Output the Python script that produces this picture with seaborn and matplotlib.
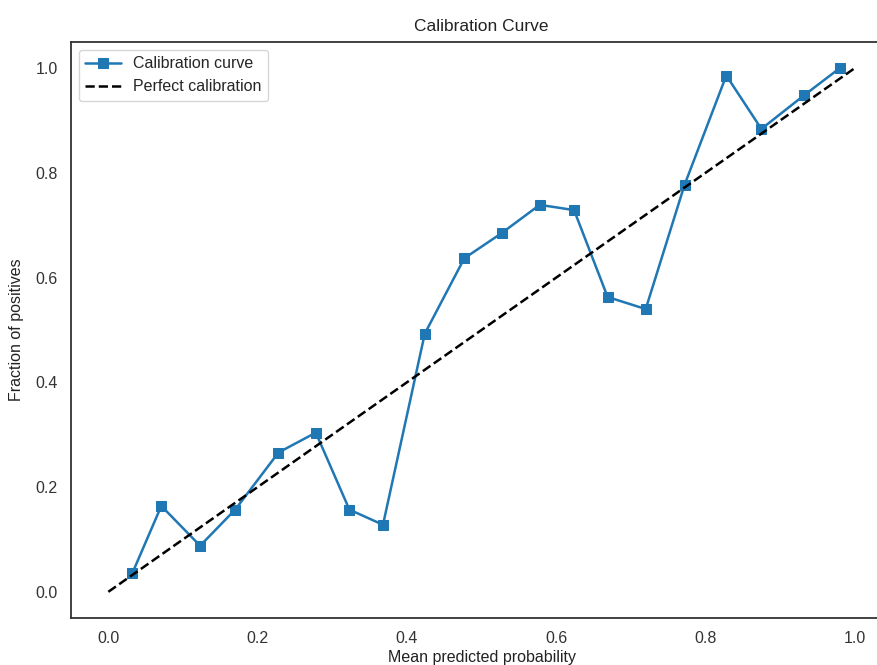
import matplotlib
matplotlib.use("Agg")
import matplotlib.pyplot as plt
import seaborn as sns
import pandas as pd

mean_pred = [0.032, 0.071, 0.123, 0.170, 0.228, 0.278, 0.323, 0.368, 0.424, 0.477,
             0.527, 0.578, 0.624, 0.669, 0.720, 0.772, 0.828, 0.875, 0.932, 0.980]
frac_pos = [0.035, 0.164, 0.088, 0.157, 0.266, 0.304, 0.157, 0.128, 0.493, 0.637,
            0.685, 0.739, 0.729, 0.563, 0.540, 0.777, 0.986, 0.884, 0.948, 1.000]
perfect = [0.0, 1.0]
ticks = [0.0, 0.2, 0.4, 0.6, 0.8, 1.0]

sns.set_style("white")
plt.rcParams['font.family'] = ['Liberation Sans', 'DejaVu Sans']

df = pd.DataFrame({"x": mean_pred, "y": frac_pos})
dp = pd.DataFrame({"x": perfect, "y": perfect})

fig = plt.figure(figsize=(8.78, 6.65), dpi=100)
ax = fig.add_axes([71 / 878, 47 / 665, 821 / 878, 576 / 665])

sns.lineplot(data=df, x="x", y="y", ax=ax, marker="s", markersize=7, color="#1f77b4",
             linewidth=1.8, markeredgecolor="#1f77b4", label="Calibration curve")
sns.lineplot(data=dp, x="x", y="y", ax=ax, color="black", linestyle="--",
             linewidth=1.8, label="Perfect calibration")

ax.set_xlim(-0.05, 1.05)
ax.set_ylim(-0.05, 1.05)
ax.set_xticks(ticks)
ax.set_yticks(ticks)
ax.tick_params(labelsize=11.5, colors="#333333", pad=6)
for s in ax.spines.values():
    s.set_color("#333333")
    s.set_linewidth(1.3)

ax.set_title("Calibration Curve", fontsize=12.5, color="#222222", pad=8)
ax.set_xlabel("Mean predicted probability", fontsize=11.5, color="#222222", labelpad=3)
ax.set_ylabel("Fraction of positives", fontsize=11.5, color="#222222", labelpad=8)
ax.legend(loc="upper left", fontsize=11.5, frameon=True, handlelength=2.2)

fig.savefig("out.png", dpi=100)
